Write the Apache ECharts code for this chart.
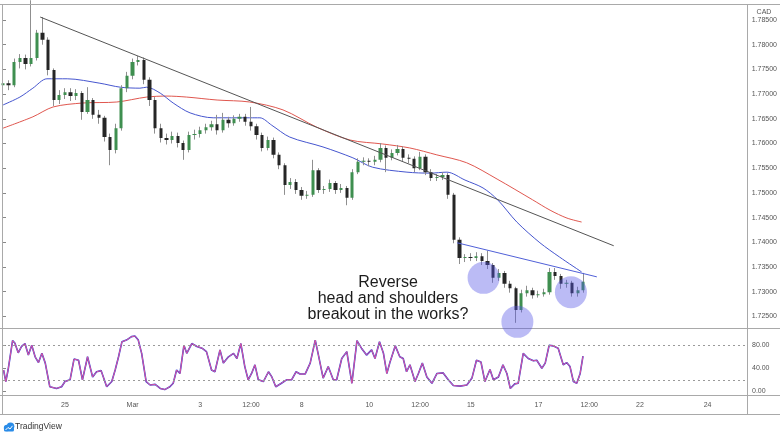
<!DOCTYPE html>
<html><head><meta charset="utf-8">
<script src="https://cdn.jsdelivr.net/npm/echarts@6/dist/echarts.min.js"></script>
<style>html,body{margin:0;padding:0;background:#fff}#c{width:780px;height:439px}</style>
</head><body><div id="c"></div>
<script>
// 4-hour candles, index = bar slot
const opens = [1.7718,1.7722,1.7718,1.7765,1.7773,1.7761,1.7773,1.7824,1.7810,1.7749,
1.7688,1.7698,1.7704,1.7696,1.7702,1.7664,1.7688,1.7658,1.7652,1.7613,
1.7587,1.7631,1.7712,1.7737,1.7765,1.7769,1.7729,1.7688,1.7631,1.7611,
1.7607,1.7615,1.7601,1.7587,1.7617,1.7619,1.7627,1.7633,1.7639,1.7627,
1.7648,1.7641,1.7650,1.7654,1.7644,1.7635,1.7617,1.7591,1.7607,1.7577,
1.7556,1.7516,1.7522,1.7506,1.7494,1.7496,1.7546,1.7506,1.7508,1.7520,
1.7506,1.7510,1.7490,1.7542,1.7563,1.7565,1.7563,1.7567,1.7591,1.7571,
1.7581,1.7589,1.7571,1.7569,1.7550,1.7573,1.7542,1.7530,1.7532,1.7536,
1.7496,1.7405,1.7368,1.7370,1.7368,1.7372,1.7362,1.7354,1.7328,1.7338,
1.7316,1.7307,1.7263,1.7297,1.7303,1.7293,1.7295,1.7299,1.7340,1.7332,
1.7316,1.7318,1.7297,1.7303];
const closes = [1.7722,1.7718,1.7765,1.7773,1.7761,1.7773,1.7824,1.7810,1.7749,1.7688,
1.7698,1.7704,1.7696,1.7702,1.7664,1.7688,1.7658,1.7652,1.7613,1.7587,
1.7631,1.7712,1.7737,1.7765,1.7769,1.7729,1.7688,1.7631,1.7611,1.7607,
1.7615,1.7601,1.7587,1.7617,1.7619,1.7627,1.7633,1.7639,1.7627,1.7648,
1.7641,1.7650,1.7654,1.7644,1.7635,1.7617,1.7591,1.7607,1.7577,1.7556,
1.7516,1.7522,1.7506,1.7494,1.7496,1.7546,1.7506,1.7508,1.7520,1.7506,
1.7510,1.7490,1.7542,1.7563,1.7565,1.7563,1.7567,1.7591,1.7571,1.7581,
1.7589,1.7571,1.7569,1.7550,1.7573,1.7542,1.7530,1.7532,1.7536,1.7496,
1.7405,1.7368,1.7370,1.7368,1.7372,1.7362,1.7354,1.7328,1.7338,1.7316,
1.7307,1.7263,1.7297,1.7303,1.7293,1.7295,1.7299,1.7340,1.7332,1.7316,
1.7318,1.7297,1.7303,1.7320];
const lows = [1.7710,1.7708,1.7714,1.7752,1.7750,1.7756,1.7768,1.7800,1.7738,1.7676,
1.7680,1.7690,1.7686,1.7688,1.7648,1.7660,1.7650,1.7640,1.7604,1.7556,
1.7580,1.7626,1.7704,1.7730,1.7758,1.7720,1.7676,1.7620,1.7602,1.7598,
1.7600,1.7592,1.7567,1.7582,1.7608,1.7612,1.7620,1.7626,1.7618,1.7622,
1.7632,1.7636,1.7644,1.7636,1.7626,1.7608,1.7584,1.7586,1.7570,1.7548,
1.7496,1.7508,1.7498,1.7486,1.7488,1.7492,1.7500,1.7498,1.7502,1.7498,
1.7500,1.7475,1.7486,1.7538,1.7556,1.7554,1.7556,1.7562,1.7542,1.7566,
1.7576,1.7564,1.7560,1.7542,1.7546,1.7536,1.7524,1.7524,1.7526,1.7488,
1.7398,1.7356,1.7360,1.7362,1.7362,1.7354,1.7346,1.7318,1.7322,1.7308,
1.7298,1.7237,1.7258,1.7290,1.7286,1.7288,1.7290,1.7294,1.7324,1.7306,
1.7308,1.7290,1.7290,1.7298];
const highs = [1.7730,1.7728,1.7772,1.7781,1.7780,1.7890,1.7830,1.7856,1.7815,1.7752,
1.7708,1.7712,1.7712,1.7710,1.7706,1.7714,1.7692,1.7668,1.7656,1.7620,
1.7640,1.7718,1.7745,1.7772,1.7777,1.7774,1.7734,1.7694,1.7640,1.7620,
1.7624,1.7622,1.7606,1.7624,1.7628,1.7634,1.7640,1.7646,1.7658,1.7662,
1.7654,1.7657,1.7660,1.7660,1.7674,1.7640,1.7622,1.7614,1.7612,1.7582,
1.7560,1.7530,1.7528,1.7512,1.7504,1.7567,1.7550,1.7514,1.7527,1.7524,
1.7518,1.7514,1.7548,1.7570,1.7572,1.7570,1.7575,1.7601,1.7596,1.7588,
1.7597,1.7594,1.7578,1.7574,1.7583,1.7578,1.7548,1.7538,1.7542,1.7540,
1.7500,1.7410,1.7376,1.7378,1.7380,1.7378,1.7383,1.7358,1.7346,1.7342,
1.7322,1.7310,1.7304,1.7312,1.7308,1.7302,1.7306,1.7348,1.7348,1.7336,
1.7324,1.7322,1.7310,1.7338];

const blueMA = [[0,1.7678],[3.0,1.7694],[5.3,1.7712],[7.8,1.7731],[11.4,1.7731],[17.2,1.7722],[20.8,1.7714],[24.3,1.7712],[25.5,1.7714],[27.9,1.7702],[30.2,1.7682],[33.2,1.7662],[37.3,1.7652],[43.8,1.7652],[45.6,1.7652],[47.7,1.7637],[50.9,1.7613],[56.8,1.7593],[62.1,1.7571],[65.6,1.7552],[71.7,1.7542],[75.8,1.7540],[78.8,1.7542],[82.0,1.7526],[85.2,1.7510],[87.8,1.7486],[91.2,1.7441],[95.3,1.7399],[98.8,1.7370],[102.7,1.7340]];
const redMA = [[0,1.7631],[5.3,1.7654],[8.9,1.7674],[14.2,1.7682],[20.2,1.7684],[25.5,1.7694],[29.1,1.7696],[32.6,1.7694],[38.0,1.7688],[43.8,1.7684],[49.7,1.7668],[55.7,1.7633],[61.6,1.7607],[67.4,1.7599],[72.2,1.7591],[77.0,1.7577],[82.3,1.7561],[87.7,1.7528],[94.0,1.7486],[97.1,1.7465],[100.1,1.7449],[102.7,1.7441]];
const trendLine = [[6.6,1.7856],[108.4,1.7393]];
const neckLine = [[80.6,1.7399],[105.4,1.7330]];
const circles = [[85.3,1.7328],[91.3,1.7239],[100.8,1.7299]];

const stoch = [[0.1,37],[0.5,17],[0.9,37],[1.7,88],[2.1,84],[2.7,67],[3.3,78],[3.9,83],[4.5,63],[5.1,80],[5.7,60],[6.3,50],[6.9,66],[7.5,49],[8.3,8],[9.5,5],[10.4,8],[11.0,17],[11.9,20],[12.6,56],[13.4,54],[14.1,20],[15.0,60],[15.9,25],[16.6,34],[17.4,36],[18.4,8],[19.3,17],[19.9,37],[20.5,60],[21.1,86],[21.9,89],[22.8,95],[23.4,96],[24.0,89],[24.6,66],[25.4,17],[26.1,11],[27.0,12],[27.9,5],[28.7,3],[29.6,8],[30.2,14],[30.8,37],[31.4,31],[32.1,80],[32.6,66],[33.5,83],[34.4,78],[35.3,75],[36.1,69],[37.0,37],[37.6,34],[38.5,72],[39.1,49],[40.0,60],[40.9,66],[41.5,57],[42.2,83],[42.9,43],[43.5,20],[44.1,31],[44.7,46],[45.3,20],[46.2,17],[47.1,34],[47.7,25],[48.4,8],[49.4,14],[50.3,20],[51.2,20],[52.0,34],[52.7,30],[53.6,30],[54.5,49],[55.4,89],[55.9,66],[56.8,23],[57.7,43],[58.6,20],[59.2,20],[60.1,57],[61.0,69],[61.9,14],[62.8,88],[63.6,75],[64.5,63],[65.4,72],[66.0,57],[66.8,86],[67.5,66],[68.1,31],[68.7,52],[69.6,79],[70.4,60],[71.0,57],[71.6,34],[72.2,46],[73.1,17],[73.7,31],[74.4,49],[75.2,25],[76.1,14],[77.0,31],[78.1,32],[79.0,20],[79.9,10],[81.1,9],[82.3,11],[83.2,23],[84.0,54],[84.8,51],[85.5,17],[86.4,38],[87.0,20],[87.9,25],[88.7,46],[89.4,31],[90.0,5],[90.8,13],[91.4,14],[92.3,66],[93.2,57],[94.1,53],[94.7,54],[95.6,40],[96.2,49],[96.9,80],[97.6,79],[98.5,75],[99.4,46],[100.0,50],[100.6,43],[101.2,17],[101.8,14],[102.4,31],[102.9,61]];
const stochBands = [80, 20];

const priceTicks = [1.725,1.730,1.735,1.740,1.745,1.750,1.755,1.760,1.765,1.770,1.775,1.780,1.785];
const stochTicks = [0, 40, 80];
const dateTickPos = [11,23,35,44,53,65,74,83,95,104,113,125];
const dateTickLabels = ['25','Mar','3','12:00','8','10','12:00','15','17','12:00','22','24'];

const candleData = opens.map((o, i) => [i, o, closes[i], lows[i], highs[i]]);
const dateMap = {};
dateTickPos.forEach((p, i) => { dateMap[p] = dateTickLabels[i]; });

const FONT = '"Liberation Sans", Arial, sans-serif';
const frame = '#a9a9a9';
const chart = echarts.init(document.getElementById('c'), null, {renderer: 'canvas'});
chart.setOption({
  animation: false,
  backgroundColor: '#ffffff',
  grid: [
    {left: 3, top: 4, width: 744, height: 324},
    {left: 3, top: 329, width: 744, height: 66}
  ],
  xAxis: [
    {type: 'value', gridIndex: 0, min: 0, max: 132, show: false},
    {type: 'value', gridIndex: 1, min: 0, max: 132,
      axisLine: {show: false}, axisTick: {show: false}, splitLine: {show: false},
      axisLabel: {customValues: dateTickPos, formatter: v => dateMap[Math.round(v)] || '',
        fontSize: 7, color: '#555', fontFamily: FONT, margin: 7}}
  ],
  yAxis: [
    {type: 'value', gridIndex: 0, position: 'right', min: 1.72265, max: 1.78824, scale: true,
      axisLine: {show: false}, splitLine: {show: false},
      axisTick: {show: true, customValues: priceTicks, length: 3, lineStyle: {color: '#888'}},
      axisLabel: {customValues: priceTicks, formatter: v => v.toFixed(5), fontSize: 7, color: '#555', fontFamily: FONT, margin: 5}},
    {type: 'value', gridIndex: 1, position: 'right', min: -6.4, max: 108.3,
      axisLine: {show: false}, splitLine: {show: false},
      axisTick: {show: true, customValues: stochTicks, length: 3, lineStyle: {color: '#888'}},
      axisLabel: {customValues: stochTicks, formatter: v => v.toFixed(2), fontSize: 7, color: '#555', fontFamily: FONT, margin: 5}}
  ],
  series: [
    {type: 'line', xAxisIndex: 0, yAxisIndex: 0, data: redMA, symbol: 'none', smooth: 0.3,
      lineStyle: {color: '#e0574f', width: 1}, z: 2},
    {type: 'line', xAxisIndex: 0, yAxisIndex: 0, data: blueMA, symbol: 'none', smooth: 0.3,
      lineStyle: {color: '#4656cf', width: 1}, z: 2},
    {type: 'candlestick', name: 'wick', xAxisIndex: 0, yAxisIndex: 0, data: candleData,
      encode: {x: 0, y: [1, 2, 3, 4]}, barWidth: 0.3,
      itemStyle: {color: '#8f8f8f', color0: '#8f8f8f', borderColor: '#8f8f8f', borderColor0: '#8f8f8f', borderColorDoji: '#8f8f8f', borderWidth: 1}, z: 3},
    {type: 'candlestick', name: 'body', xAxisIndex: 0, yAxisIndex: 0, data: candleData,
      encode: {x: 0, y: [1, 2, 3, 4]}, barWidth: 3.8,
      itemStyle: {color: '#3f8f50', color0: '#262626', borderColor: 'rgba(0,0,0,0)', borderColor0: 'rgba(0,0,0,0)', borderColorDoji: 'rgba(0,0,0,0)', borderWidth: 0}, z: 4},
    {type: 'line', xAxisIndex: 0, yAxisIndex: 0, data: trendLine, symbol: 'none',
      lineStyle: {color: '#555555', width: 1}, z: 5},
    {type: 'line', xAxisIndex: 0, yAxisIndex: 0, data: neckLine, symbol: 'none',
      lineStyle: {color: '#5060d8', width: 1}, z: 5},
    {type: 'scatter', xAxisIndex: 0, yAxisIndex: 0, data: circles, symbol: 'circle', symbolSize: 32,
      clip: false, itemStyle: {color: 'rgba(85,85,230,0.5)'}, z: 10},
    {type: 'line', xAxisIndex: 1, yAxisIndex: 1, data: stoch, symbol: 'none',
      lineStyle: {color: '#3442d6', width: 1.6}, z: 2,
      markLine: {silent: true, symbol: 'none', label: {show: false},
        lineStyle: {color: '#9a9a9a', type: [2, 3], width: 1},
        data: stochBands.map(v => ({yAxis: v}))}},
    {type: 'line', xAxisIndex: 1, yAxisIndex: 1, data: stoch, symbol: 'none',
      lineStyle: {color: '#e0559e', width: 1}, z: 3}
  ],
  graphic: [
    {type: 'line', shape: {x1: 0, y1: 4.5, x2: 780, y2: 4.5}, style: {stroke: frame, lineWidth: 1}, z: 20},
    {type: 'line', shape: {x1: 2.5, y1: 4, x2: 2.5, y2: 415}, style: {stroke: frame, lineWidth: 1}, z: 20},
    {type: 'line', shape: {x1: 747.5, y1: 4, x2: 747.5, y2: 415}, style: {stroke: frame, lineWidth: 1}, z: 20},
    {type: 'line', shape: {x1: 0, y1: 328.5, x2: 780, y2: 328.5}, style: {stroke: frame, lineWidth: 1}, z: 1},
    {type: 'line', shape: {x1: 0, y1: 395.5, x2: 780, y2: 395.5}, style: {stroke: frame, lineWidth: 1}, z: 20},
    {type: 'line', shape: {x1: 0, y1: 414.5, x2: 780, y2: 414.5}, style: {stroke: frame, lineWidth: 1}, z: 20},
    {type: 'text', x: 764, y: 9, style: {text: 'CAD', font: '7px ' + FONT, fill: '#555', textAlign: 'center'}, z: 21},
    {type: 'text', x: 388, y: 275, style: {text: 'Reverse\nhead and shoulders\nbreakout in the works?',
      font: '16px ' + FONT, fill: '#1c1c1c', textAlign: 'center', lineHeight: 16}, z: 30},
    {type: 'group', x: 3, y: 422, children: [
      {type: 'circle', shape: {cx: 4, cy: 6, r: 3.2}, style: {fill: '#2a8ce8'}},
      {type: 'circle', shape: {cx: 7.5, cy: 4.2, r: 3.8}, style: {fill: '#2a8ce8'}},
      {type: 'rect', shape: {x: 1, y: 5.5, width: 10, height: 4, r: 1.5}, style: {fill: '#2a8ce8'}},
      {type: 'polyline', shape: {points: [[2.5, 8], [5, 5.5], [7, 7], [9.5, 3.8]]}, style: {stroke: '#fff', lineWidth: 1, fill: null}}
    ]},
    {type: 'text', x: 15, y: 422, style: {text: 'TradingView', font: '8.5px ' + FONT, fill: '#333'}, z: 21}
  ]
});
</script>
</body></html>
